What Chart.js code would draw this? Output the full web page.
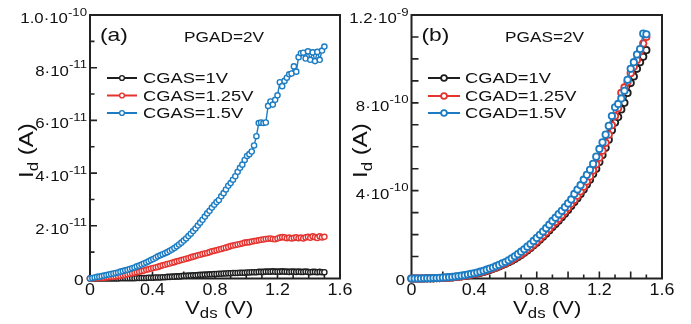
<!DOCTYPE html>
<html>
<head>
<meta charset="utf-8">
<script src="https://cdn.jsdelivr.net/npm/chart.js@4/dist/chart.umd.min.js"></script>
<style>
  html, body { margin: 0; padding: 0; background: #fff; }
  #wrap { position: relative; width: 691px; height: 324px; overflow: hidden; }
  canvas { position: absolute; top: 0; }
  #chartA { left: 0; }
  #chartB { left: 345px; }
</style>
</head>
<body>
<div id="wrap">
  <canvas id="chartA" width="360" height="324"></canvas>
  <canvas id="chartB" width="346" height="324"></canvas>
</div>
<script>
// Panel (a): PGAD = 2V, Id in units of 1e-11 A
const vdsA = [0, 0.015, 0.03, 0.045, 0.06, 0.075, 0.09, 0.105, 0.12, 0.135,
  0.15, 0.165, 0.18, 0.195, 0.21, 0.225, 0.24, 0.255, 0.27, 0.285,
  0.3, 0.315, 0.33, 0.345, 0.36, 0.375, 0.39, 0.405, 0.42, 0.435,
  0.45, 0.465, 0.48, 0.495, 0.51, 0.525, 0.54, 0.555, 0.57, 0.585,
  0.6, 0.615, 0.63, 0.645, 0.66, 0.675, 0.69, 0.705, 0.72, 0.735,
  0.75, 0.765, 0.78, 0.795, 0.81, 0.825, 0.84, 0.855, 0.87, 0.885,
  0.9, 0.915, 0.93, 0.945, 0.96, 0.975, 0.99, 1.005, 1.02, 1.035,
  1.05, 1.065, 1.08, 1.095, 1.11, 1.125, 1.14, 1.155, 1.17, 1.185,
  1.2, 1.215, 1.23, 1.245, 1.26, 1.275, 1.29, 1.305, 1.32, 1.335,
  1.35, 1.365, 1.38, 1.395, 1.41, 1.425, 1.44, 1.455, 1.47, 1.485, 1.5];

const cgas1 = [0, 0, 0, 0, 0, 0, 0, 0, 0, 0,
  0, 0, 0, 0.01, 0.01, 0.01, 0.01, 0.01, 0.01, 0.01,
  0.02, 0.02, 0.02, 0.02, 0.02, 0.03, 0.03, 0.03, 0.04, 0.04,
  0.04, 0.05, 0.05, 0.06, 0.06, 0.07, 0.07, 0.08, 0.08, 0.09,
  0.10, 0.10, 0.11, 0.11, 0.12, 0.12, 0.13, 0.14, 0.14, 0.15,
  0.15, 0.16, 0.16, 0.17, 0.17, 0.18, 0.18, 0.19, 0.19, 0.20,
  0.20, 0.21, 0.21, 0.21, 0.22, 0.22, 0.22, 0.23, 0.23, 0.24,
  0.24, 0.24, 0.25, 0.25, 0.25, 0.26, 0.26, 0.26, 0.27, 0.26,
  0.26, 0.26, 0.27, 0.26, 0.26, 0.25, 0.26, 0.26, 0.25, 0.26,
  0.25, 0.25, 0.26, 0.25, 0.24, 0.25, 0.25, 0.24, 0.25, 0.24, 0.24];

const cgas125 = [0, 0, 0.01, 0.01, 0.02, 0.02, 0.03, 0.04, 0.05, 0.06,
  0.07, 0.08, 0.09, 0.10, 0.12, 0.14, 0.16, 0.18, 0.20, 0.22,
  0.24, 0.26, 0.28, 0.30, 0.33, 0.35, 0.38, 0.40, 0.42, 0.44,
  0.47, 0.50, 0.52, 0.55, 0.57, 0.60, 0.62, 0.65, 0.67, 0.70,
  0.72, 0.75, 0.77, 0.80, 0.83, 0.85, 0.88, 0.90, 0.93, 0.95,
  0.97, 1.00, 1.03, 1.05, 1.07, 1.10, 1.12, 1.15, 1.17, 1.20,
  1.23, 1.25, 1.27, 1.29, 1.31, 1.33, 1.36, 1.37, 1.38, 1.40,
  1.42, 1.43, 1.45, 1.47, 1.48, 1.50, 1.51, 1.52, 1.50, 1.49,
  1.52, 1.55, 1.57, 1.56, 1.53, 1.55, 1.52, 1.54, 1.56, 1.53,
  1.55, 1.52, 1.56, 1.58, 1.55, 1.60, 1.57, 1.54, 1.60, 1.56, 1.58];

const cgas15 = [0, 0.02, 0.04, 0.06, 0.07, 0.09, 0.11, 0.13, 0.15, 0.17,
  0.19, 0.21, 0.23, 0.26, 0.28, 0.31, 0.33, 0.36, 0.39, 0.42,
  0.46, 0.49, 0.53, 0.57, 0.61, 0.65, 0.70, 0.74, 0.79, 0.84,
  0.88, 0.92, 0.96, 1.00, 1.05, 1.10, 1.16, 1.22, 1.29, 1.36,
  1.44, 1.52, 1.61, 1.70, 1.80, 1.90, 2.01, 2.12, 2.23, 2.35,
  2.47, 2.57, 2.69, 2.80, 2.90, 2.98, 3.12, 3.24, 3.38, 3.52,
  3.62, 3.75, 3.88, 4.05, 4.20, 4.32, 4.50, 4.65, 4.72, 4.82,
  5.05, 5.40, 5.90, 5.92, 5.90, 5.92, 6.55, 6.72, 6.60, 6.78,
  6.95, 7.45, 7.30, 7.50, 7.62, 7.75, 7.78, 8.05, 7.85, 8.40,
  8.55, 8.57, 8.35, 8.62, 8.30, 8.58, 8.25, 8.60, 8.30, 8.65, 8.80];

// Panel (b): PGAS = 2V, Id in units of 1e-10 A
const vdsB = [0, 0.02, 0.04, 0.06, 0.08, 0.1, 0.12, 0.14, 0.16, 0.18,
  0.2, 0.22, 0.24, 0.26, 0.28, 0.3, 0.32, 0.34, 0.36, 0.38,
  0.4, 0.42, 0.44, 0.46, 0.48, 0.5, 0.52, 0.54, 0.56, 0.58,
  0.6, 0.62, 0.64, 0.66, 0.68, 0.7, 0.72, 0.74, 0.76, 0.78,
  0.8, 0.82, 0.84, 0.86, 0.88, 0.9, 0.92, 0.94, 0.96, 0.98,
  1.0, 1.02, 1.04, 1.06, 1.08, 1.1, 1.12, 1.14, 1.16, 1.18,
  1.2, 1.22, 1.24, 1.26, 1.28, 1.3, 1.32, 1.34, 1.36, 1.38,
  1.4, 1.42, 1.44, 1.46, 1.48, 1.5];

const cgad1 = [0, 0, 0, 0, 0, 0.01, 0.01, 0.01, 0.02, 0.02,
  0.03, 0.03, 0.04, 0.05, 0.07, 0.08, 0.10, 0.12, 0.14, 0.17,
  0.20, 0.23, 0.26, 0.30, 0.34, 0.39, 0.44, 0.49, 0.55, 0.61,
  0.67, 0.74, 0.81, 0.89, 0.98, 1.07, 1.17, 1.28, 1.39, 1.51,
  1.63, 1.76, 1.90, 2.04, 2.19, 2.34, 2.48, 2.63, 2.79, 2.95,
  3.12, 3.30, 3.48, 3.66, 3.85, 4.05, 4.28, 4.50, 4.76, 5.00,
  5.30, 5.62, 5.95, 6.32, 6.75, 7.10, 7.35, 7.70, 8.00, 8.45,
  8.90, 9.20, 9.55, 9.85, 10.10, 10.40];

const cgad125 = [0, 0, 0, 0, 0, 0.01, 0.01, 0.01, 0.02, 0.02,
  0.03, 0.03, 0.04, 0.05, 0.07, 0.08, 0.10, 0.12, 0.15, 0.18,
  0.21, 0.24, 0.27, 0.31, 0.36, 0.41, 0.46, 0.51, 0.57, 0.63,
  0.70, 0.77, 0.84, 0.93, 1.02, 1.11, 1.21, 1.32, 1.43, 1.55,
  1.68, 1.82, 1.96, 2.11, 2.26, 2.42, 2.57, 2.72, 2.88, 3.05,
  3.22, 3.40, 3.58, 3.77, 3.97, 4.18, 4.42, 4.65, 4.92, 5.20,
  5.50, 5.82, 6.18, 6.55, 6.98, 7.40, 7.75, 8.45, 8.70, 8.95,
  9.35, 9.65, 9.95, 10.35, 10.70, 11.00];

const cgad15 = [0, 0, 0, 0, 0.01, 0.01, 0.01, 0.02, 0.02, 0.03,
  0.04, 0.05, 0.06, 0.07, 0.09, 0.11, 0.13, 0.15, 0.18, 0.21,
  0.24, 0.27, 0.31, 0.35, 0.40, 0.45, 0.50, 0.56, 0.62, 0.69,
  0.75, 0.83, 0.92, 1.01, 1.11, 1.22, 1.33, 1.45, 1.57, 1.71,
  1.85, 1.99, 2.14, 2.29, 2.45, 2.62, 2.77, 2.93, 3.08, 3.25,
  3.42, 3.60, 3.85, 4.05, 4.25, 4.50, 4.72, 4.95, 5.22, 5.55,
  5.90, 6.20, 6.55, 6.95, 7.40, 7.80, 7.95, 8.20, 8.55, 9.05,
  9.55, 9.85, 10.20, 10.45, 11.15, 11.12];

const namesA = ['CGAS=1V', 'CGAS=1.25V', 'CGAS=1.5V'];
const namesB = ['CGAD=1V', 'CGAD=1.25V', 'CGAD=1.5V'];

// tick labels
const xTickVals = [0, 0.4, 0.8, 1.2, 1.6];
const xTickText = ['0', '0.4', '0.8', '1.2', '1.6'];
const yTickValsA = [0, 2, 4, 6, 8, 10];
const yTickTextA = [['0', ''], ['2·10', '-11'], ['4·10', '-11'], ['6·10', '-11'], ['8·10', '-11'], ['1.0·10', '-10']];
const yTickValsB = [0, 4, 8, 12];
const yTickTextB = [['0', ''], ['4·10', '-10'], ['8·10', '-10'], ['1.2·10', '-9']];

const COLORS = ['#1e1e1e', '#e5332f', '#1c7cc3'];
const AXIS = '#222';
const FONT = '"Liberation Sans", Arial, sans-serif';

// text in the figure runs wider than Liberation Sans, so stretch it along the line
function drawRich(ctx, x, y, parts, align, stretch, rot) {
  ctx.save();
  ctx.translate(x, y);
  if (rot) ctx.rotate(rot);
  ctx.scale(stretch, 1);
  ctx.textAlign = 'left';
  ctx.textBaseline = 'alphabetic';
  ctx.fillStyle = '#111';
  let w = 0;
  parts.forEach(p => { ctx.font = p[1] + 'px ' + FONT; w += ctx.measureText(p[0]).width; });
  let cx = align === 'right' ? -w : align === 'center' ? -w / 2 : 0;
  parts.forEach(p => {
    ctx.font = p[1] + 'px ' + FONT;
    ctx.fillText(p[0], cx, p[2] || 0);
    cx += ctx.measureText(p[0]).width;
  });
  ctx.restore();
}

function panelPlugin(p) {
  return {
    id: 'panel' + p.tag,
    beforeDatasetsDraw(chart) {
      const ctx = chart.ctx, a = chart.chartArea;
      const xs = chart.scales.x, ys = chart.scales.y;
      ctx.save();
      ctx.strokeStyle = AXIS;
      ctx.lineWidth = 1.6;
      ctx.beginPath();
      for (let k = 1; k < 16; k++) {
        const px = xs.getPixelForValue(k / 10);
        const len = k % 2 === 0 ? 7 : 4;
        ctx.moveTo(px, a.bottom);
        ctx.lineTo(px, a.bottom - len);
      }
      for (let k = 1; k < p.yMax; k++) {
        const py = ys.getPixelForValue(k);
        const len = p.yLong(k) ? 7 : 4.5;
        ctx.moveTo(a.left, py);
        ctx.lineTo(a.left + len, py);
      }
      ctx.stroke();
      ctx.lineWidth = 2;
      ctx.strokeRect(a.left, a.top, a.right - a.left, a.bottom - a.top);
      ctx.restore();
    },
    afterDraw(chart) {
      const ctx = chart.ctx, a = chart.chartArea;
      const xs = chart.scales.x, ys = chart.scales.y;

      xTickVals.forEach((v, i) => {
        drawRich(ctx, xs.getPixelForValue(v), a.bottom + 16.5, [[xTickText[i], 16]], 'center', 1.12);
      });
      p.yVals.forEach((v, i) => {
        const py = ys.getPixelForValue(v);
        const t = p.yText[i];
        if (!t[1]) {
          drawRich(ctx, a.left - 6.5, py + 6, [[t[0], 15]], 'right', 1.15);
        } else {
          drawRich(ctx, a.left - 3, py + 8, [[t[0], 14], [t[1], 11, -7.5]], 'right', 1.2);
        }
      });

      // axis titles
      drawRich(ctx, p.xTitleX, 313.5, [['V', 18.5], ['ds', 14, 4.5], [' (V)', 18.5]], 'left', 1.2);
      drawRich(ctx, p.yTitleX, 178, [['I', 20], ['d', 14, 4.5], [' (A)', 20]], 'left', 1.2, -Math.PI / 2);

      // panel tag and bias note
      drawRich(ctx, p.tagX, 41, [[p.tag, 19]], 'left', 1.2);
      drawRich(ctx, p.noteX, 41.5, [[p.note, 15]], 'left', 1.15);

      // legend
      const L = p.legend;
      chart.data.datasets.forEach((ds, i) => {
        const y = L.rows[i];
        ctx.save();
        ctx.strokeStyle = ds.borderColor;
        ctx.lineWidth = 2;
        ctx.beginPath();
        ctx.moveTo(L.x1, y);
        ctx.lineTo(L.x2, y);
        ctx.stroke();
        ctx.beginPath();
        ctx.arc((L.x1 + L.x2) / 2, y, p.legendRadius, 0, Math.PI * 2);
        ctx.fillStyle = '#fff';
        ctx.fill();
        ctx.lineWidth = p.pointBorder;
        ctx.stroke();
        ctx.restore();
        drawRich(ctx, L.tx, y + 5.4, [[ds.label, 15]], 'left', 1.22);
      });
    }
  };
}

function makeChart(id, vds, series, names, p) {
  const datasets = series.map((vals, i) => ({
    label: names[i],
    data: vds.map((v, k) => ({ x: v, y: vals[k] })),
    borderColor: COLORS[i],
    backgroundColor: '#fff',
    pointBackgroundColor: '#fff',
    pointBorderColor: COLORS[i],
    pointRadius: p.radius,
    pointBorderWidth: p.pointBorder,
    borderWidth: 1.4,
    tension: 0,
    clip: false,
    order: 3 - i
  }));
  return new Chart(document.getElementById(id), {
    type: 'line',
    data: { datasets: datasets },
    options: {
      responsive: false,
      animation: false,
      events: [],
      layout: { padding: { left: 0, right: p.padRight, top: 15, bottom: 0 } },
      plugins: { legend: { display: false }, tooltip: { enabled: false } },
      scales: {
        x: {
          type: 'linear', min: 0, max: 1.6,
          ticks: { display: false }, grid: { display: false }, border: { display: false },
          afterFit: s => { s.height = 45.5; }
        },
        y: {
          type: 'linear', min: 0, max: p.yMax,
          ticks: { display: false }, grid: { display: false }, border: { display: false },
          afterFit: s => { s.width = p.axisLeft; }
        }
      }
    },
    plugins: [panelPlugin(p)]
  });
}

makeChart('chartA', vdsA, [cgas1, cgas125, cgas15], namesA, {
  tag: '(a)', note: 'PGAD=2V', yMax: 10, yLong: k => k % 2 === 0,
  yVals: yTickValsA, yText: yTickTextA,
  axisLeft: 90, padRight: 20, radius: 2.6, pointBorder: 1.4, legendRadius: 2.4,
  xTitleX: 185, yTitleX: 33, tagX: 100, noteX: 184,
  legend: { x1: 107, x2: 137, tx: 143, rows: [78, 95.5, 113] }
});

makeChart('chartB', vdsB, [cgad1, cgad125, cgad15], namesB, {
  tag: '(b)', note: 'PGAS=2V', yMax: 12, yLong: k => true,
  yVals: yTickValsB, yText: yTickTextB,
  axisLeft: 66.5, padRight: 29, radius: 3.2, pointBorder: 1.8, legendRadius: 2.9,
  xTitleX: 168, yTitleX: 22, tagX: 76.5, noteX: 160,
  legend: { x1: 83, x2: 115, tx: 120, rows: [78, 96, 113] }
});
</script>
</body>
</html>
